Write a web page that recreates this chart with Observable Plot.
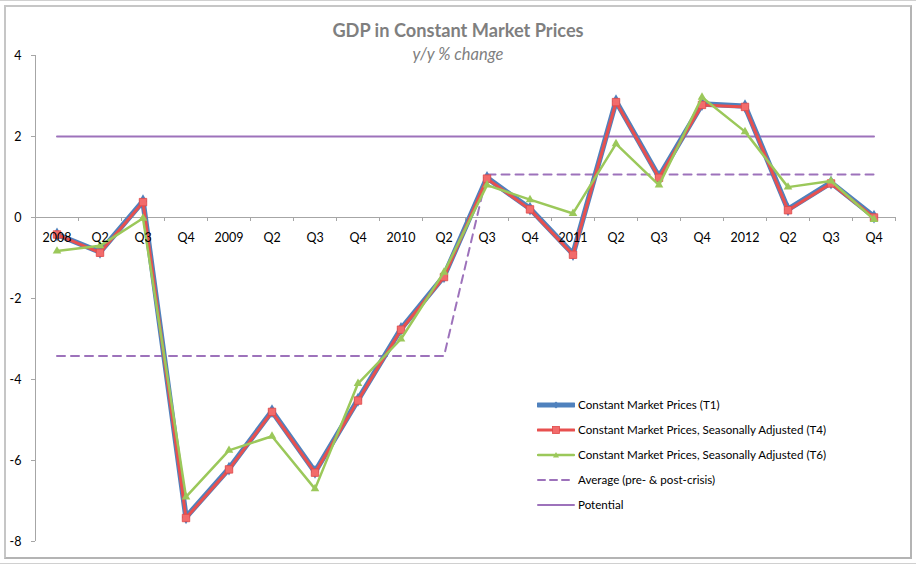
<!DOCTYPE html>
<html>
<head>
<meta charset="utf-8">
<script src="https://cdn.jsdelivr.net/npm/d3@7"></script>
<script src="https://cdn.jsdelivr.net/npm/@observablehq/plot@0.6"></script>
<style>
  html, body { margin: 0; padding: 0; background: #fff; }
  #wrap { position: relative; width: 916px; height: 565px; font-family: Lato, "Open Sans", sans-serif; overflow: hidden; }
  #topline { position: absolute; left: 0; top: 0; width: 916px; height: 1px; background: #d0d0d0; }
  #botline { position: absolute; left: 0; top: 563px; width: 916px; height: 1px; background: #d0d0d0; }
  #frame { position: absolute; left: 4px; top: 5px; width: 904px; height: 550px; border: 2px solid #c6c6c6; border-right-color: #b4b4b4; border-bottom-color: #b4b4b4; }
  #title { position: absolute; left: 0; width: 916px; top: 19px; text-align: center; font-weight: bold; font-size: 18.2px; color: #7f7f7f; }
  #subtitle { position: absolute; left: 0; width: 916px; top: 44px; text-align: center; font-style: italic; font-size: 16.5px; color: #7f7f7f; }
  #chart { position: absolute; left: 0; top: 0; }
  #legend { position: absolute; left: 537px; top: 392px; font-size: 11.6px; color: #000; }
  .row { display: flex; align-items: center; height: 25px; }
  .row svg { margin-right: 3px; }
</style>
</head>
<body>
<div id="wrap">
  <div id="topline"></div>
  <div id="botline"></div>
  <div id="frame"></div>
  <div id="chart"></div>
  <div id="title">GDP in Constant Market Prices</div>
  <div id="subtitle">y/y % change</div>
  <div id="legend"></div>
</div>
<script>
const quarters = ["2008","Q2","Q3","Q4","2009","Q2","Q3","Q4","2010","Q2","Q3","Q4","2011","Q2","Q3","Q4","2012","Q2","Q3","Q4"];
const t1 = [-0.42,-0.85,0.40,-7.40,-6.20,-4.78,-6.28,-4.50,-2.75,-1.45,0.98,0.22,-0.90,2.87,1.00,2.80,2.75,0.20,0.86,0.02];
const t4 = [-0.42,-0.87,0.38,-7.42,-6.22,-4.80,-6.30,-4.52,-2.77,-1.47,0.96,0.20,-0.92,2.85,0.98,2.78,2.73,0.18,0.84,0.00];
const t6 = [-0.83,-0.70,-0.02,-6.90,-5.75,-5.40,-6.70,-4.10,-3.00,-1.35,0.80,0.44,0.10,1.82,0.80,2.97,2.12,0.75,0.90,-0.05];
const average = [-3.42,-3.42,-3.42,-3.42,-3.42,-3.42,-3.42,-3.42,-3.42,-3.42,1.06,1.06,1.06,1.06,1.06,1.06,1.06,1.06,1.06,1.06];
const potential = [2,2,2,2,2,2,2,2,2,2,2,2,2,2,2,2,2,2,2,2];
const yTicks = [-8,-6,-4,-2,0,2,4];
const yDomain = [-8, 4];

const seriesNames = {
  t1: "Constant Market Prices (T1)",
  t4: "Constant Market Prices, Seasonally Adjusted (T4)",
  t6: "Constant Market Prices, Seasonally Adjusted (T6)",
  avg: "Average (pre- & post-crisis)",
  pot: "Potential"
};
const colors = { t1: "#4f81bd", t4: "#e8504f", t6: "#9bc85a", purple: "#9d72bb" };

const toRows = arr => arr.map((v, i) => ({ i, v }));
const boundaries = d3.range(quarters.length + 1).map(i => i - 0.5);

const chart = Plot.plot({
  width: 916,
  height: 565,
  marginLeft: 35,
  marginRight: 21,
  marginTop: 55,
  marginBottom: 24,
  style: { fontFamily: "Lato, 'Open Sans', sans-serif", background: "transparent" },
  x: { type: "linear", domain: [-0.5, quarters.length - 0.5], axis: null },
  y: { domain: yDomain, axis: null },
  marks: [
    Plot.ruleX([-0.5], { y1: yDomain[0], y2: yDomain[1], stroke: "#a6a6a6", strokeWidth: 1 }),
    Plot.axisY({ ticks: yTicks, tickSize: 4, tickPadding: 10, stroke: "#a6a6a6", fill: "#000", fontSize: 12.5, tickFormat: d => d, label: null }),
    Plot.ruleY([0], { stroke: "#a6a6a6", strokeWidth: 1 }),
    Plot.ruleX(boundaries, { x: d => d, y1: 0, y2: 0, insetBottom: -4, stroke: "#a6a6a6" }),
    Plot.line(toRows(potential), { x: "i", y: "v", stroke: colors.purple, strokeWidth: 2 }),
    Plot.line(toRows(average), { x: "i", y: "v", stroke: colors.purple, strokeWidth: 2, strokeDasharray: "8,6" }),
    Plot.line(toRows(t1), { x: "i", y: "v", stroke: colors.t1, strokeWidth: 5.5 }),
    Plot.dot(toRows(t1), { x: "i", y: "v", symbol: "diamond", r: 4.2, fill: colors.t1 }),
    Plot.line(toRows(t4), { x: "i", y: "v", stroke: colors.t4, strokeWidth: 3 }),
    Plot.dot(toRows(t4), { x: "i", y: "v", symbol: "square", r: 4.2, fill: "#f26b6b", stroke: "#e04848", strokeWidth: 0.8 }),
    Plot.line(toRows(t6), { x: "i", y: "v", stroke: colors.t6, strokeWidth: 2.5 }),
    Plot.dot(toRows(t6), { x: "i", y: "v", symbol: "triangle", r: 3.2, fill: colors.t6 }),
    Plot.text(quarters, { x: (d, i) => i, y: 0, text: d => d, dy: 20, fontSize: 12.5, fill: "#000" })
  ]
});
document.getElementById("chart").appendChild(chart);

// Legend
const legendItems = [
  { key: "t1", color: colors.t1, width: 5, marker: "diamond" },
  { key: "t4", color: colors.t4, width: 3, marker: "square" },
  { key: "t6", color: colors.t6, width: 2.5, marker: "triangle" },
  { key: "avg", color: colors.purple, width: 2, dash: "7,5" },
  { key: "pot", color: colors.purple, width: 2 }
];
const legend = document.getElementById("legend");
for (const it of legendItems) {
  const row = document.createElement("div");
  row.className = "row";
  let marker = "";
  if (it.marker === "diamond") marker = `<path d="M19,1.5 L22.5,5 L19,8.5 L15.5,5 Z" fill="${it.color}"/>`;
  if (it.marker === "square") marker = `<rect x="15.5" y="1.5" width="7" height="7" fill="#f26b6b" stroke="#e04848" stroke-width="0.8"/>`;
  if (it.marker === "triangle") marker = `<path d="M19,2 L22,7.5 L16,7.5 Z" fill="${it.color}"/>`;
  row.innerHTML = `<svg width="38" height="10"><line x1="1" y1="5" x2="37" y2="5" stroke="${it.color}" stroke-width="${it.width}" ${it.dash ? `stroke-dasharray="${it.dash}"` : ""} stroke-linecap="round"/>${marker}</svg><span>${seriesNames[it.key]}</span>`;
  legend.appendChild(row);
}
</script>
</body>
</html>
